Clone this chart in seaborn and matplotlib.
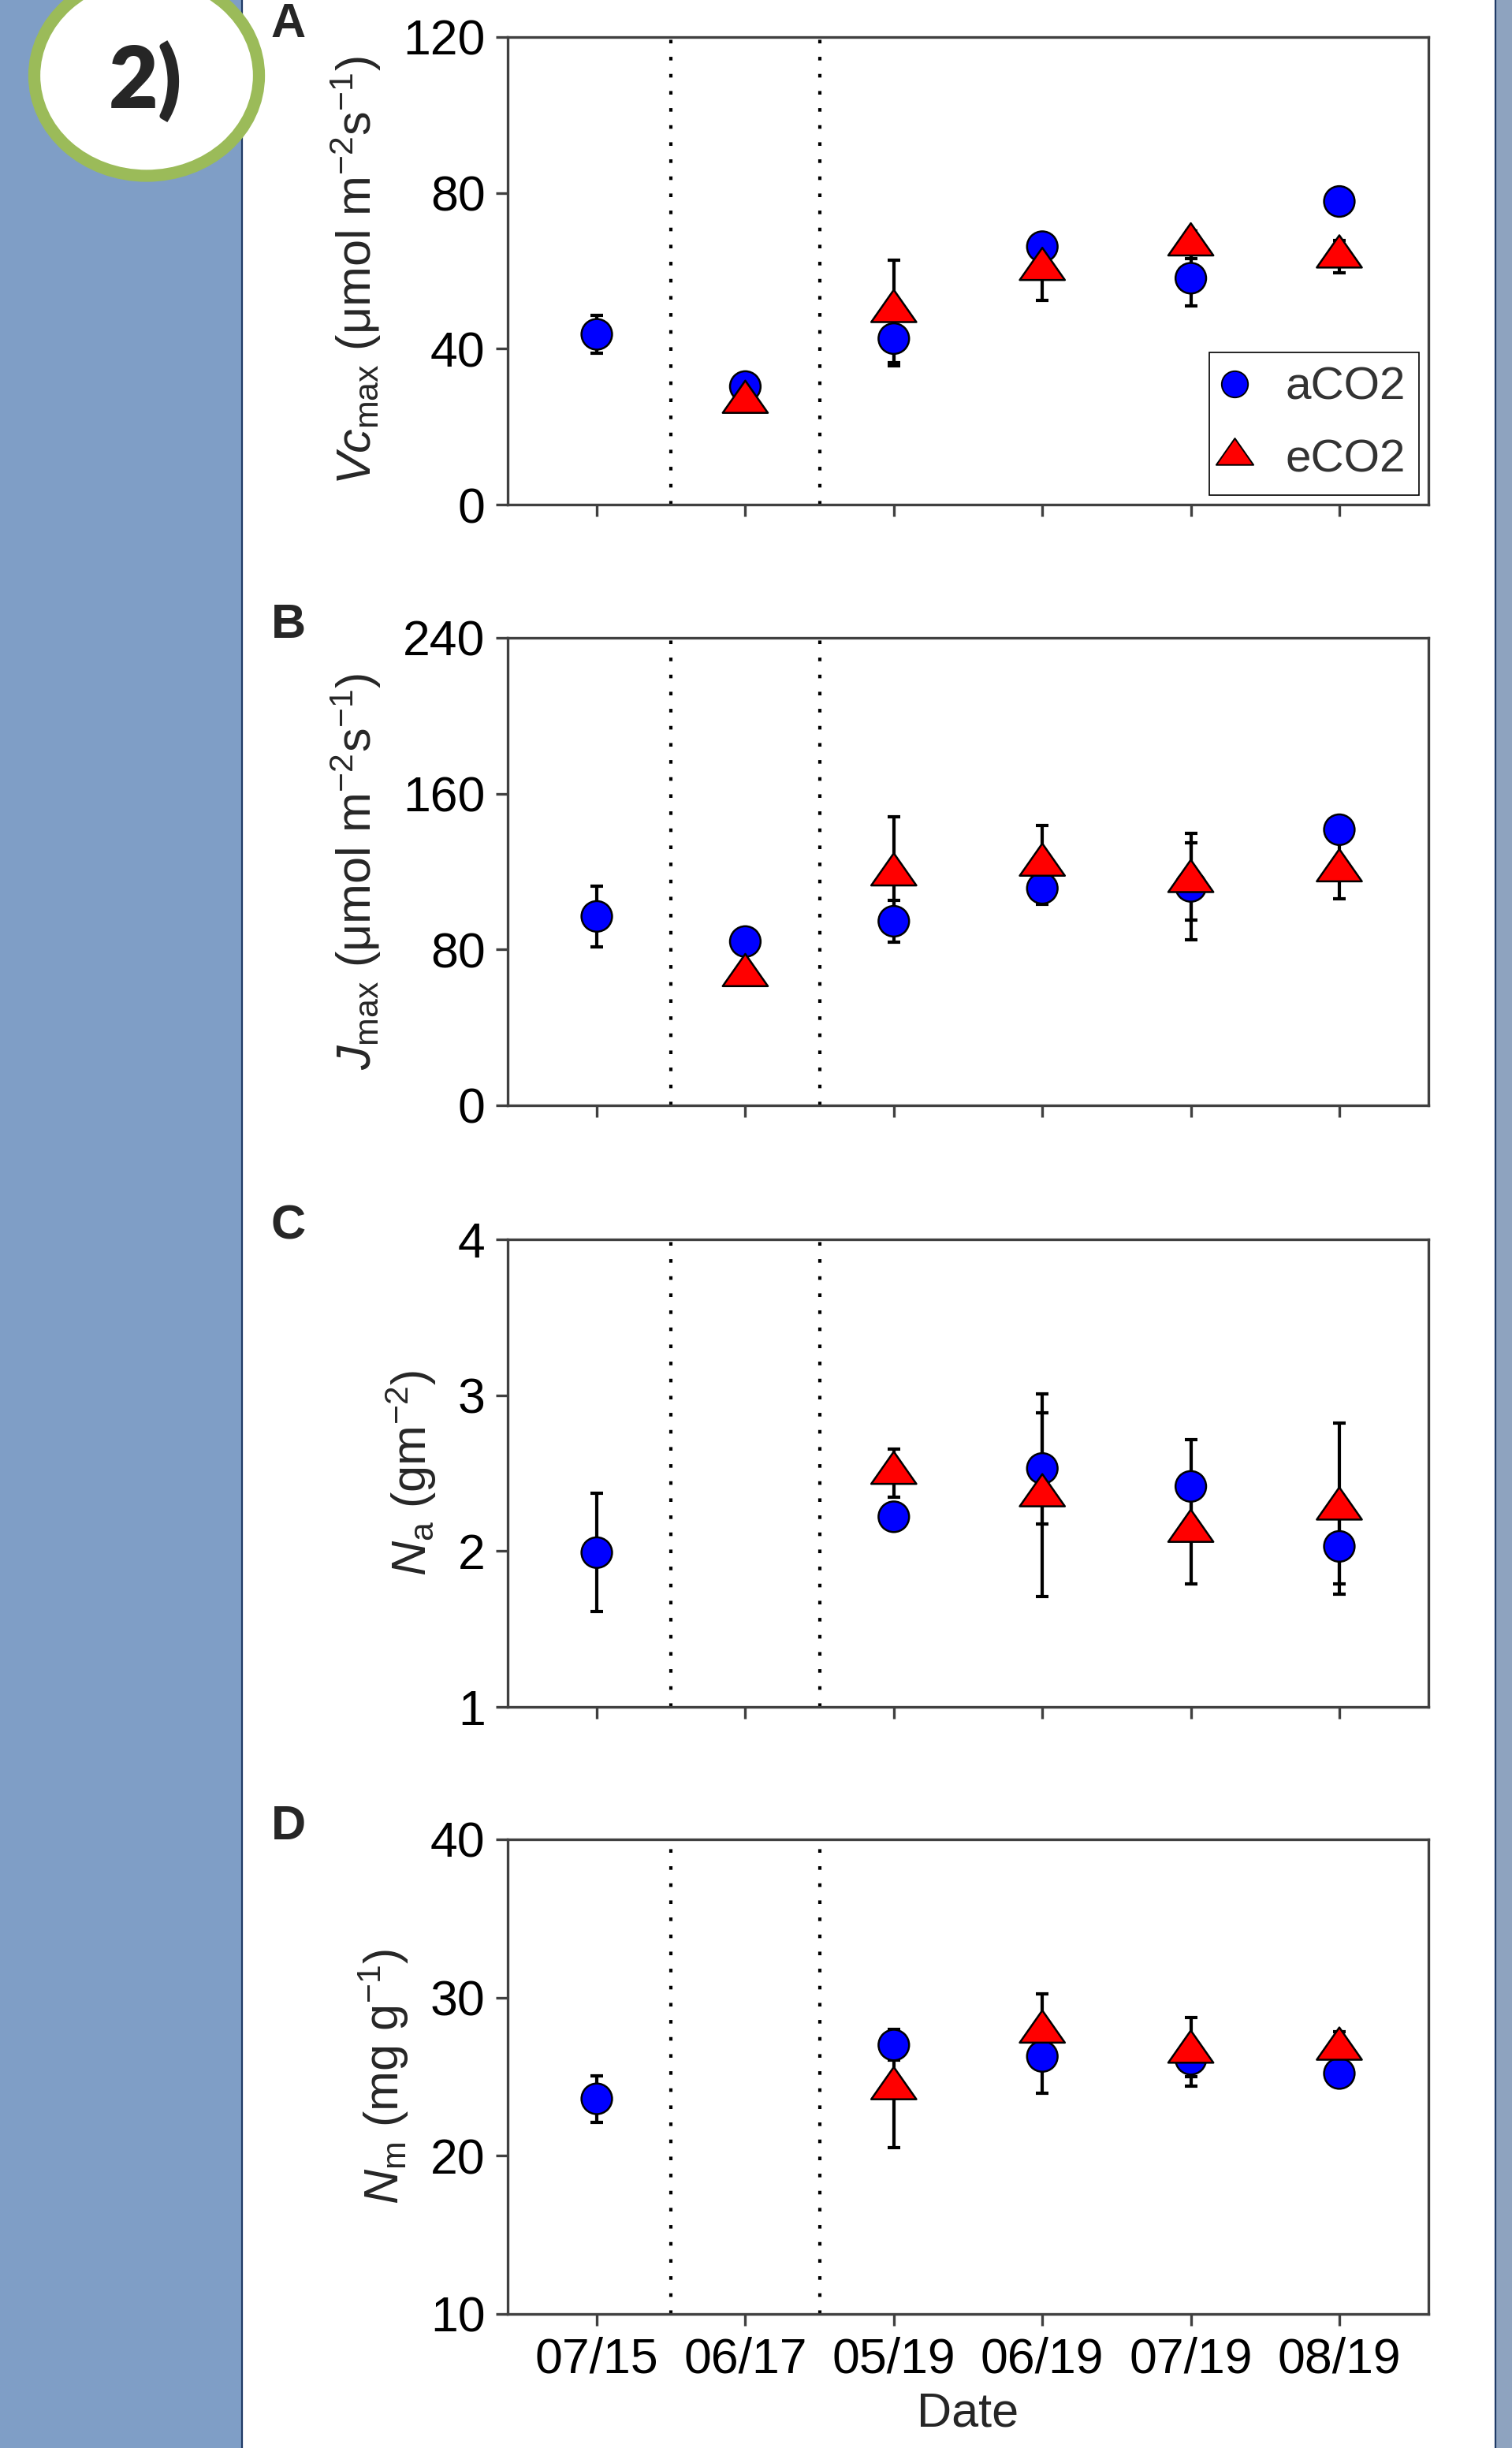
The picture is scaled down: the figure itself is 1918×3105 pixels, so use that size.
import numpy as np
import pandas as pd
import matplotlib
matplotlib.use("Agg")
import matplotlib.pyplot as plt
import seaborn as sns
from matplotlib.path import Path
from matplotlib.patches import Rectangle, Ellipse
from matplotlib.lines import Line2D

nan = np.nan

# ---------------- data ----------------
dates = ["07/15", "06/17", "05/19", "06/19", "07/19", "08/19"]
groups = ["aCO2", "eCO2"]

vc_a = [43.7, 30.3, 42.6, 66.2, 58.1, 77.8]
vc_a_se = [4.9, 1.5, 7.0, 2.5, 7.1, 1.8]
vc_e = [nan, 26.3, 49.6, 60.4, 66.7, 63.6]
vc_e_se = [nan, 1.5, 13.1, 8.0, 3.6, 4.1]

j_a = [97.0, 84.1, 94.5, 111.4, 112.4, 141.5]
j_a_se = [15.7, 2.0, 10.8, 7.0, 27.4, 3.0]
j_e = [nan, 66.7, 118.4, 123.4, 115.0, 120.5]
j_e_se = [nan, 2.0, 29.6, 20.2, 19.9, 14.3]

na_a = [1.99, nan, 2.22, 2.53, 2.415, 2.03]
na_a_se = [0.38, nan, 0.06, 0.355, 0.30, 0.24]
na_e = [nan, nan, 2.50, 2.356, 2.128, 2.271]
na_e_se = [nan, nan, 0.154, 0.65, 0.34, 0.548]

nm_a = [23.6, nan, 27.0, 26.28, 26.1, 25.2]
nm_a_se = [1.47, nan, 0.95, 2.32, 1.1, 0.5]
nm_e = [nan, nan, 24.25, 27.83, 26.56, 26.75]
nm_e_se = [nan, nan, 3.75, 2.39, 2.18, 1.08]

panel_letters = ["A", "B", "C", "D"]
y_labels = [
    r"$\mathit{Vc}_{\mathrm{max}}$ (μmol m$^{-2}$s$^{-1}$)",
    r"$\mathit{J}_{\mathrm{max}}$ (μmol m$^{-2}$s$^{-1}$)",
    r"$\mathit{N}_{\mathrm{a}}$ (gm$^{-2}$)",
    r"$\mathit{N}_{\mathrm{m}}$ (mg g$^{-1}$)",
]
y_ticks = [[0, 40, 80, 120], [0, 80, 160, 240], [1, 2, 3, 4], [10, 20, 30, 40]]
x_label = "Date"

panels = [
    (vc_a, vc_a_se, vc_e, vc_e_se),
    (j_a, j_a_se, j_e, j_e_se),
    (na_a, na_a_se, na_e, na_e_se),
    (nm_a, nm_a_se, nm_e, nm_e_se),
]

# ---------------- style ----------------
sns.set_theme(style="ticks")
plt.rcParams["font.family"] = ["Liberation Sans", "DejaVu Sans"]
plt.rcParams["mathtext.fontset"] = "custom"
plt.rcParams["mathtext.rm"] = "Liberation Sans"
plt.rcParams["mathtext.it"] = "Liberation Sans:italic"
plt.rcParams["mathtext.bf"] = "Liberation Sans:bold"

W, H = 1918, 3105
fig = plt.figure(figsize=(W / 100, H / 100), dpi=100)
fig.patch.set_facecolor("white")

# background bands
fig.add_artist(Rectangle((0, 0), 307 / W, 1, transform=fig.transFigure,
                         facecolor="#7F9EC6", edgecolor="none", zorder=0))
fig.add_artist(Line2D([307 / W, 307 / W], [0, 1], transform=fig.transFigure,
                      color="#1F3A66", lw=1.6, zorder=1))
fig.add_artist(Rectangle((1897 / W, 0), 21 / W, 1, transform=fig.transFigure,
                         facecolor="#8EA3BF", edgecolor="none", zorder=0))
fig.add_artist(Line2D([1897 / W, 1897 / W], [0, 1], transform=fig.transFigure,
                      color="#1F3A66", lw=1.6, zorder=1))

# badge
fig.add_artist(Ellipse((186 / W, 1 - 96 / H), width=285 / W, height=254 / H,
                       transform=fig.transFigure, facecolor="white",
                       edgecolor="#9BBB59", linewidth=11, zorder=2))
fig.text(184 / W, 1 - 137 / H, "2)", ha="center", va="baseline",
         fontsize=78, fontweight="heavy", family=["Lato", "DejaVu Sans"], zorder=3)

# triangle marker (centroid at origin, wider than tall)
tri = Path([(0, 1.0), (-1.05, -0.5), (1.05, -0.5), (0, 1.0)],
           [Path.MOVETO, Path.LINETO, Path.LINETO, Path.CLOSEPOLY])

# axes positions (pixel top, bottom)
left_px, right_px = 644, 1812
tb = [(47, 640), (809, 1402), (1572, 2165), (2333, 2935)]

spine_col = "#404040"
x = np.arange(len(dates))

for i, ((a, a_se, e, e_se), (top, bot)) in enumerate(zip(panels, tb)):
    ax = fig.add_axes([left_px / W, 1 - bot / H, (right_px - left_px) / W, (bot - top) / H])
    ax.set_facecolor("white")

    df = pd.DataFrame({
        "pos": np.concatenate([x, x]),
        "value": np.array(a + e, dtype=float),
        "se": np.array(a_se + e_se, dtype=float),
        "group": ["aCO2"] * len(x) + ["eCO2"] * len(x),
    }).dropna()

    for g in groups:
        d = df[df["group"] == g]
        ax.errorbar(d["pos"], d["value"], yerr=d["se"], fmt="none", ecolor="black",
                    elinewidth=3.0, capsize=6, capthick=3.0, zorder=2)

    for xv in (0.5, 1.5):
        ax.axvline(xv, color="black", lw=3.0, ls=(0, (1.1, 4.1)), zorder=1)

    sns.scatterplot(data=df, x="pos", y="value", hue="group", style="group", size="group",
                    palette={"aCO2": "#0000FF", "eCO2": "#FF0000"},
                    markers={"aCO2": "o", "eCO2": tri},
                    sizes={"aCO2": 780, "eCO2": 1700},
                    edgecolor="black", linewidth=1.8, legend=False, ax=ax, zorder=3)

    ax.set_xlim(-0.6, 5.6)
    ax.set_ylim(y_ticks[i][0], y_ticks[i][-1])
    ax.set_yticks(y_ticks[i])
    ax.set_xticks(x)
    if i == 3:
        ax.set_xticklabels(dates)
        ax.set_xlabel(x_label, fontsize=44, labelpad=8)
    else:
        ax.set_xticklabels([])
        ax.set_xlabel("")
    ax.set_ylabel(y_labels[i], fontsize=44, labelpad=18)

    for sp in ax.spines.values():
        sp.set_visible(True)
        sp.set_color(spine_col)
        sp.set_linewidth(2.4)
    ax.tick_params(axis="both", which="major", direction="out", length=10.5, width=2.4,
                   color=spine_col, labelsize=45, pad=10, labelcolor="black",
                   top=False, right=False)

    ax.text(-0.238, 1.0, panel_letters[i], transform=ax.transAxes, ha="center",
            va="baseline", fontsize=44, fontweight="bold")

    if i == 0:
        handles = [
            Line2D([], [], ls="none", marker="o", markersize=24, markerfacecolor="#0000FF",
                   markeredgecolor="black", markeredgewidth=1.4, label="aCO2"),
            Line2D([], [], ls="none", marker=tri, markersize=34, markerfacecolor="#FF0000",
                   markeredgecolor="black", markeredgewidth=1.4, label="eCO2"),
        ]
        leg = ax.legend(handles=handles, loc="lower right", fontsize=42, frameon=True,
                        fancybox=False, framealpha=1, edgecolor="black",
                        borderpad=0.3, handlelength=0.5, handletextpad=0.85,
                        labelspacing=0.65, borderaxespad=0.2)
        leg.get_frame().set_linewidth(1.2)
        for t in leg.get_texts():
            t.set_color("#333333")

fig.savefig("out.png", dpi=100, facecolor="white")
